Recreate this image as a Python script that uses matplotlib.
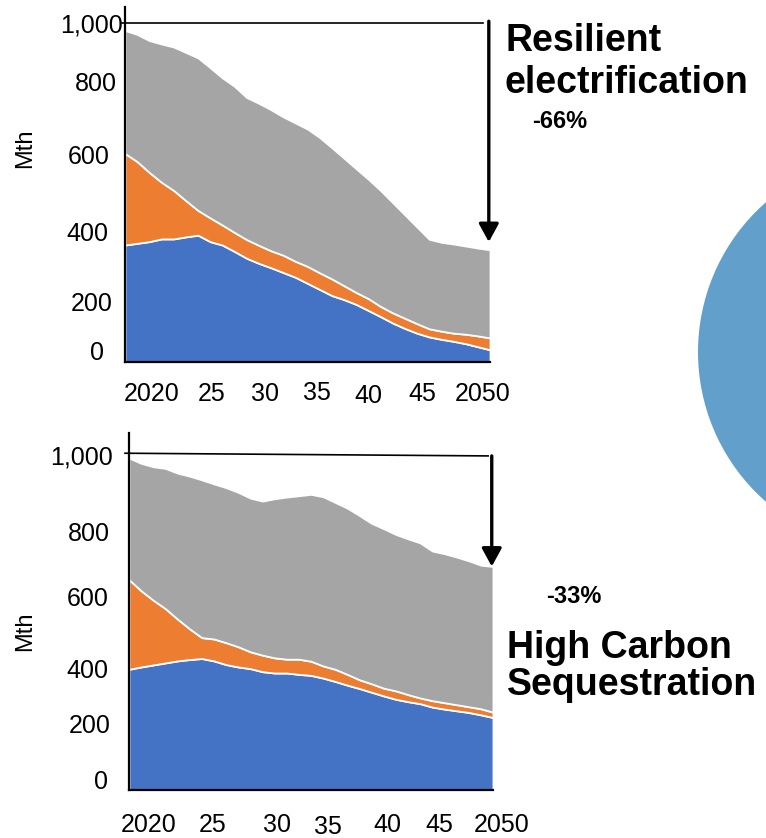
import matplotlib
matplotlib.use("Agg")
import matplotlib.pyplot as plt
from matplotlib.patches import Circle

plt.rcParams['font.family'] = ['Liberation Sans', 'DejaVu Sans']

# ---------------------------------------------------------------
# data (Mth), stacked bottom -> top : blue, orange, gray
years = list(range(2020, 2051))

# Resilient electrification
re_blue = [345, 350, 355, 363, 363, 369, 374, 355, 345, 326, 306, 291, 278, 264, 250, 232,
           214, 196, 184, 170, 152, 134, 115, 99, 85, 74, 67, 61, 54, 45, 36]
re_orange = [270, 241, 204, 167, 143, 107, 73, 70, 59, 56, 55, 53, 50, 51, 47, 50,
             49, 49, 41, 35, 35, 30, 30, 30, 28, 24, 24, 24, 28, 32, 35]
re_gray = [363, 375, 389, 408, 423, 437, 450, 443, 434, 431, 419, 419, 416, 408, 408, 405,
           399, 387, 376, 365, 352, 342, 325, 305, 285, 264, 262, 263, 260, 259, 260]

# High Carbon Sequestration
hc_blue = [358, 365, 371, 377, 383, 387, 390, 383, 372, 365, 360, 351, 347, 347, 343, 340,
           332, 322, 311, 301, 290, 279, 269, 262, 256, 246, 240, 235, 230, 223, 215]
hc_orange = [266, 226, 192, 161, 124, 91, 62, 65, 65, 60, 50, 49, 45, 41, 45, 42,
             36, 36, 32, 26, 25, 23, 25, 21, 17, 19, 19, 18, 17, 18, 16]
hc_gray = [361, 378, 396, 416, 433, 453, 468, 460, 460, 458, 456, 457, 472, 481, 485, 495,
           502, 495, 493, 487, 476, 473, 464, 462, 460, 444, 442, 438, 433, 426, 432]

re_start, re_end = 1000, 354      # arrow: 1,000 -> 2050 level (-66%)
hc_start, hc_end = 991, 663       # arrow (-33%)

ytick_labels = ['1,000', '800', '600', '400', '200', '0']
xtick_labels = ['2020', '25', '30', '35', '40', '45', '2050']

# label placement (the slide labels are hand placed, not on a regular grid)
top_ypos = [1000, 827, 611, 386, 178, 35]
top_ypad = [1.5, 6, 11, 12, 9, 15]
top_xpos = [2022.2, 2027.1, 2031.5, 2035.8, 2040.0, 2044.4, 2049.4]
top_xpad = [14.5, 14.5, 14.5, 13.5, 15.5, 14.5, 14.5]
bot_ypos = [994, 766, 573, 361, 198, 30]
bot_ypad = [11.5, 13.5, 15, 15, 13.5, 15]
bot_xpos = [2021.6, 2026.9, 2032.2, 2036.4, 2041.3, 2045.6, 2050.7]
bot_xpad = [16.5, 16.5, 16.5, 18, 16.5, 16.5, 16.5]

colors = ['#4472C4', '#ED7D31', '#A5A5A5']

W, H = 766, 838
fig = plt.figure(figsize=(W / 100, H / 100), dpi=100)

# background layer in pixel coords for the slide decorations
bg = fig.add_axes([0, 0, 1, 1], zorder=-1)
bg.set_xlim(0, W)
bg.set_ylim(H, 0)
bg.axis('off')
bg.add_patch(Circle((897, 352), 199, color='#629FCA', lw=0))


def panel(rect, ytop, blue, orange, gray, ypos, ypad, xpos, xpad, lab_xy):
    ax = fig.add_axes(rect)
    ax.set_facecolor('none')
    ax.stackplot(years, blue, orange, gray, colors=colors,
                 edgecolor='white', linewidth=1.3)
    ax.set_xlim(2020, 2051)
    ax.set_ylim(0, ytop)
    for s in ['top', 'right']:
        ax.spines[s].set_visible(False)
    for s in ['left', 'bottom']:
        ax.spines[s].set_linewidth(1.6)
        ax.spines[s].set_zorder(5)
    ax.spines['bottom'].set_bounds(2020, 2050)
    ax.tick_params(length=0, labelsize=18, colors='black')
    ax.set_yticks(ypos)
    ax.set_yticklabels(ytick_labels)
    ax.set_xticks(xpos)
    ax.set_xticklabels(xtick_labels)
    for t, p in zip(ax.yaxis.get_major_ticks(), ypad):
        t.set_pad(p)
    for t, p in zip(ax.xaxis.get_major_ticks(), xpad):
        t.set_pad(p)
    ax.set_ylabel('Mth', fontsize=17, va='center')
    ax.yaxis.set_label_coords(*lab_xy)
    return ax


ax1 = panel([125 / W, 1 - 362 / H, 377.2 / W, 355 / H], 1047,
            re_blue, re_orange, re_gray, top_ypos, top_ypad, top_xpos, top_xpad,
            (-0.265, 0.603))
ax2 = panel([129 / W, 1 - 790 / H, 376.1 / W, 357 / H], 1059,
            hc_blue, hc_orange, hc_gray, bot_ypos, bot_ypad, bot_xpos, bot_xpad,
            (-0.277, 0.445))

# reference line from 2020 level and the reduction arrow
arrow_style = dict(arrowstyle='-|>,head_length=0.55,head_width=0.3', lw=2.4,
                   color='black', shrinkA=0, shrinkB=0, mutation_scale=20)
ax1.plot([2019.75, 2049.4], [re_start, re_start], color='black', lw=1.2, clip_on=False, zorder=6)
ax1.annotate('', xy=(2049.9, re_end), xytext=(2049.9, re_start + 5),
             annotation_clip=False, arrowprops=arrow_style)
ax2.plot([2019.67, 2049.6], [999, hc_start], color='black', lw=1.2, clip_on=False, zorder=6)
ax2.annotate('', xy=(2049.9, hc_end), xytext=(2049.9, hc_start),
             annotation_clip=False, arrowprops=arrow_style)

# scenario names and changes
bg.text(505, 23, 'Resilient\nelectrification', fontsize=27, fontweight='bold',
        ha='left', va='top', linespacing=1.2)
bg.text(532, 110, '-66%', fontsize=17, fontweight='bold', ha='left', va='top')
bg.text(546, 585, '-33%', fontsize=17, fontweight='bold', ha='left', va='top')
bg.text(507, 630, 'High Carbon\nSequestration', fontsize=27, fontweight='bold',
        ha='left', va='top', linespacing=1.02)

fig.savefig('out.png', dpi=100)
